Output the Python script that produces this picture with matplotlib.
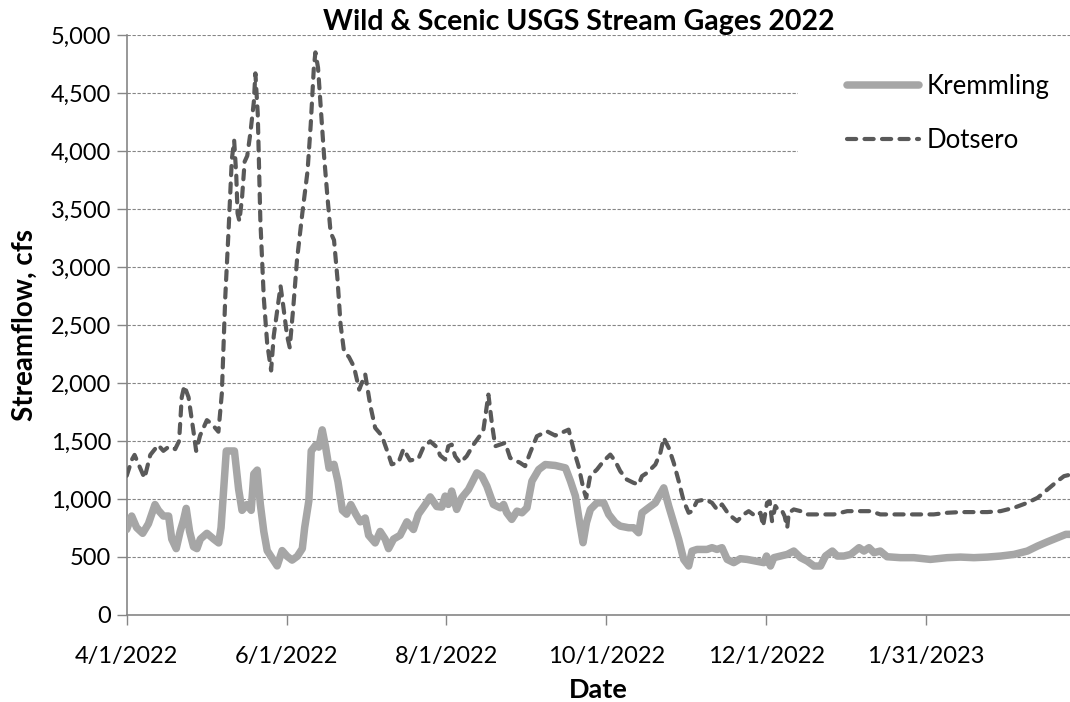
import pandas as pd
import numpy as np
import matplotlib
matplotlib.use("Agg")
import matplotlib.pyplot as plt
from matplotlib.ticker import FuncFormatter
from matplotlib.patches import Rectangle

plt.rcParams['font.family'] = ['Lato', 'DejaVu Sans']

start = pd.Timestamp('2022-04-01')
tick_labels = ['4/1/2022', '6/1/2022', '8/1/2022', '10/1/2022', '12/1/2022', '1/31/2023']

# days since 4/1/2022, streamflow cfs
dotsero_days = [0, 2, 3, 6.8, 9, 12, 14, 16, 18.5, 20, 21, 22, 23.6, 25.5, 26.5, 28, 30.6, 32.5, 35,
                36.3, 37.6, 38.9, 40.1, 41, 41.8, 42.3, 43, 44, 45, 46, 47.2, 48.5, 49.1, 50, 51, 52.3,
                53.6, 55.1, 56.1, 57.7, 58.7, 59.7, 61.2, 62.2, 63.5, 65, 67, 69, 70.2, 71.4, 72, 73,
                74, 75.3, 76.5, 77.8, 79.1, 80.4, 81.6, 82.9, 84.8, 86.7, 88.7, 91, 92.9, 94.8, 97.3,
                99.9, 101.1, 103.7, 105.6, 108.1, 111.3, 113.2, 115.8, 118.3, 119.6, 121.5, 122.7, 124,
                125.3, 127.2, 129.7, 132.3, 134.8, 136.1, 138, 139.3, 140.6, 142.5, 144.4, 146.3, 150.1,
                152, 153.9, 156.5, 160.3, 163.5, 168.6, 170.5, 172.4, 174.3, 175.3, 176.8, 179.4, 181.9,
                184.5, 186.4, 188.3, 190.8, 193.4, 195.3, 196.6, 198.5, 201.7, 203.6, 204.9, 206.8,
                208.7, 210.6, 212.5, 214.4, 215.7, 217.6, 220.8, 223.3, 225.2, 227.1, 229.7, 232.9,
                235.4, 237.3, 239.9, 241.8, 242.8, 244.3, 245.3, 246.2, 247.5, 248.8, 250.1, 251, 252,
                252.6, 254.5, 257.1, 259.6, 264.7, 269.8, 274.9, 280, 283.8, 287.5, 292.6, 297.7, 302.8,
                307.9, 313, 318.1, 323.2, 328.3, 333.4, 338.5, 343.6, 347.5, 351.3, 355.1, 357.6, 360.2]
dotsero_cfs = [1200, 1340, 1380, 1180, 1380, 1465, 1415, 1450, 1430, 1500, 1877, 1976, 1877, 1580, 1415,
               1547, 1680, 1646, 1580, 1910, 2736, 3331, 3926, 4091, 3794, 3463, 3397, 3595, 3909, 3959,
               4157, 4422, 4670, 4323, 3397, 2736, 2340, 2108, 2406, 2670, 2836, 2670, 2406, 2307, 2637,
               3067, 3463, 3827, 4223, 4719, 4851, 4719, 4389, 3959, 3628, 3298, 3232, 2902, 2505, 2274,
               2224, 2141, 1943, 2075, 1811, 1613, 1547, 1381, 1299, 1315, 1431, 1332, 1348, 1447, 1497,
               1447, 1375, 1340, 1455, 1469, 1369, 1312, 1369, 1469, 1547, 1598, 1900, 1656, 1455, 1469,
               1484, 1354, 1312, 1283, 1398, 1541, 1584, 1547, 1598, 1426, 1283, 1082, 1010, 1197, 1254,
               1326, 1383, 1326, 1240, 1168, 1139, 1125, 1197, 1225, 1297, 1398, 1527, 1441, 1312, 1154,
               982, 881, 895, 982, 996, 967, 910, 953, 867, 809, 867, 895, 852, 881, 766, 967, 982, 809,
               939, 895, 895, 852, 752, 881, 910, 895, 867, 867, 867, 895, 895, 895, 867, 867, 867, 867,
               867, 881, 887, 887, 887, 895, 924, 967, 1010, 1082, 1154, 1197, 1211]

kremmling_days = [0, 1.9, 3.8, 6.1, 8.3, 10.8, 12.1, 14, 16, 17.2, 18.9, 20.4, 21.7, 22.7, 24, 25.5, 26.8,
                  28.1, 30.6, 33.2, 35.1, 36, 37, 38, 39.6, 41.1, 42.7, 44, 45.9, 47.5, 48.5, 49.8, 51,
                  52.3, 53.6, 55.5, 57.4, 59.3, 61.2, 63.1, 65.1, 67, 67.9, 69.5, 70.4, 72.1, 73.3, 74.6,
                  75.9, 77.2, 79.1, 80.6, 82.3, 83.9, 85.5, 87.4, 89.1, 91, 92.3, 94.8, 96.7, 98.6, 99.9,
                  101.8, 104.3, 106.9, 109.4, 111.3, 113.9, 115.8, 118.3, 120.2, 121.5, 122.7, 124, 125.9,
                  127.8, 130.4, 133.6, 135.5, 137.4, 139.9, 142.5, 143.8, 145, 146.9, 148.9, 150.8, 152.7,
                  154.6, 157.2, 159.7, 163.5, 167.4, 169.3, 171.2, 172.8, 174.1, 175.4, 176.9, 179.4, 182,
                  183.9, 186.4, 188.3, 191.5, 193.4, 195.3, 196.6, 199.1, 201.7, 204.9, 206.8, 208.7,
                  210.6, 212.5, 214.4, 215.7, 217.6, 221.4, 223.3, 225.2, 227.1, 229.1, 231.6, 234.1,
                  236.7, 239.9, 243.1, 244.1, 245.6, 246.9, 249.4, 252, 254.5, 257.1, 259.6, 262.2, 264.7,
                  266.6, 269.2, 271.1, 273.6, 276.2, 279.4, 281.3, 283.2, 285.1, 287.5, 290.1, 295.2,
                  300.3, 306.6, 313, 318.1, 323.2, 328.3, 333.4, 338.5, 343.6, 347.5, 351.3, 355.1, 358.3,
                  360.2]
kremmling_cfs = [737, 853, 753, 704, 787, 952, 902, 853, 853, 654, 572, 720, 820, 919, 720, 588, 572, 654,
                 704, 654, 621, 753, 1084, 1414, 1414, 1414, 1084, 902, 952, 902, 1216, 1249, 952, 720,
                 555, 489, 423, 555, 506, 473, 506, 572, 753, 985, 1414, 1464, 1447, 1596, 1447, 1266,
                 1299, 1150, 902, 869, 952, 869, 803, 836, 687, 621, 720, 654, 572, 654, 687, 803, 737,
                 869, 952, 1018, 935, 930, 1025, 953, 1068, 910, 1010, 1082, 1225, 1197, 1111, 953, 924,
                 953, 881, 824, 895, 881, 924, 1154, 1254, 1297, 1289, 1268, 1154, 1025, 795, 623, 795,
                 910, 967, 967, 867, 795, 766, 752, 752, 709, 881, 924, 967, 1096, 938, 795, 651, 479, 422,
                 551, 565, 565, 580, 565, 580, 479, 451, 485, 479, 465, 451, 508, 422, 494, 508, 522, 551,
                 494, 465, 422, 422, 508, 551, 508, 508, 522, 580, 551, 580, 537, 551, 502, 494, 494, 479,
                 494, 499, 494, 499, 508, 522, 551, 594, 631, 666, 695, 695]

dotsero_dates = start + pd.to_timedelta(dotsero_days, unit='D')
kremmling_dates = start + pd.to_timedelta(kremmling_days, unit='D')
tick_dates = pd.to_datetime(tick_labels, format='%m/%d/%Y')

fig = plt.figure(figsize=(10.7, 7.02), dpi=100)
ax = fig.add_axes([0.1184, 0.124, 0.8814, 0.826])

ax.plot(kremmling_dates, kremmling_cfs, color='#a6a6a6', lw=5.4, solid_capstyle='round',
        solid_joinstyle='round', label='Kremmling', zorder=3)
ax.plot(dotsero_dates, dotsero_cfs, color='#595959', lw=3, linestyle=(0, (2.2, 2.0)),
        dash_capstyle='round', label='Dotsero', zorder=3)

ax.set_xlim(start, start + pd.Timedelta(days=359.8))
ax.set_ylim(0, 5000)
ax.set_yticks(np.arange(0, 5001, 500))
ax.yaxis.set_major_formatter(FuncFormatter(lambda v, p: f'{int(v):,}'))
ax.set_xticks(tick_dates)
ax.set_xticklabels(tick_labels)

ax.grid(axis='y', color='#868686', linestyle=(0, (3, 1.5)), lw=0.8)
ax.set_axisbelow(True)
for s in ['top', 'right']:
    ax.spines[s].set_visible(False)
for s in ['left', 'bottom']:
    ax.spines[s].set_color('#868686')
    ax.spines[s].set_linewidth(1.2)
ax.tick_params(axis='both', colors='#868686', labelcolor='black', labelsize=17, length=7, width=1)
ax.tick_params(axis='x', pad=15)
ax.tick_params(axis='y', pad=4)

ax.set_title('Wild & Scenic USGS Stream Gages 2022', fontsize=20.5, fontweight='bold', pad=1, x=0.479)
ax.set_xlabel('Date', fontsize=19.5, fontweight='bold', labelpad=8)
ax.set_ylabel('Streamflow, cfs', fontsize=20, fontweight='bold')
ax.yaxis.set_label_coords(-0.094, 0.5)

# white legend area that hides the gridlines behind it
ax.add_patch(Rectangle((0.712, 0.76), 0.3, 0.2, transform=ax.transAxes, facecolor='white',
                       edgecolor='none', zorder=1.5))
leg = ax.legend(loc='upper right', bbox_to_anchor=(1.003, 0.972), frameon=False, fontsize=18.5,
                handlelength=2.8, labelspacing=1.1, handletextpad=0.3)

fig.savefig('out.png', dpi=100)
